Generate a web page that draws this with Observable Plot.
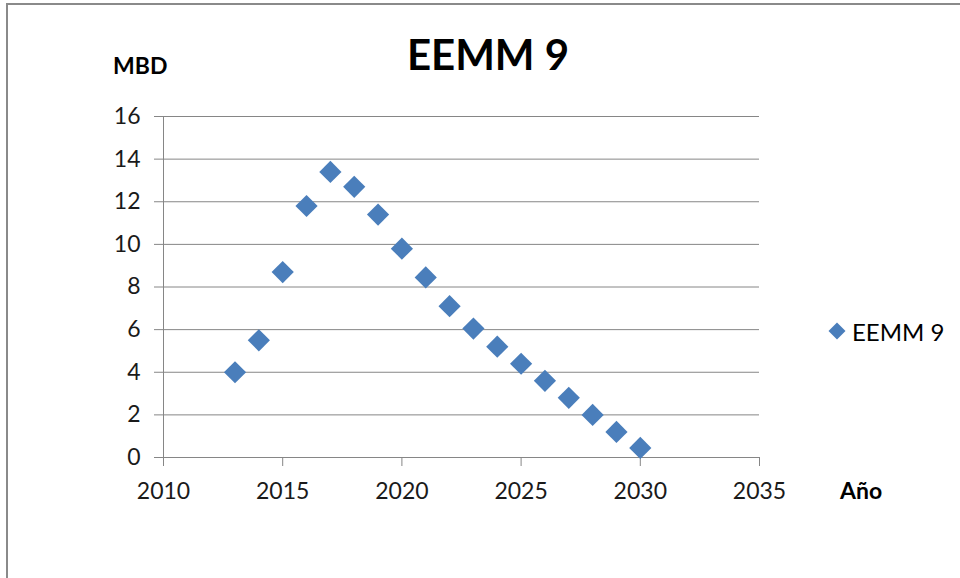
<!DOCTYPE html>
<html>
<head>
<meta charset="utf-8">
<script src="https://cdn.jsdelivr.net/npm/d3@7"></script>
<script src="https://cdn.jsdelivr.net/npm/@observablehq/plot@0.6"></script>
<style>
  html, body { margin: 0; padding: 0; background: #fff; }
  #wrap { position: relative; width: 960px; height: 578px; overflow: hidden; font-family: Lato, "Open Sans", sans-serif; }
  #frame { position: absolute; left: 6px; top: 3px; width: 1000px; height: 700px; border-left: 2px solid #8a8a8a; border-top: 2px solid #8a8a8a; box-sizing: border-box; }
  .lbl { position: absolute; line-height: 1; white-space: nowrap; color: #000; }
  #chart { position: absolute; left: 0; top: 0; }
</style>
</head>
<body>
<div id="wrap">
  <div id="frame"></div>
  <div id="chart"></div>
  <div class="lbl" id="title" style="font-weight:700;font-size:42px;top:33px;left:0;width:976px;text-align:center;">EEMM 9</div>
  <div class="lbl" id="ylab" style="font-weight:700;font-size:23px;top:54px;left:113px;">MBD</div>
  <div class="lbl" id="xlab" style="font-weight:700;font-size:23px;top:479px;left:840px;">Año</div>
  <div class="lbl" id="legend" style="font-size:24px;top:320px;left:827px;display:flex;align-items:center;">
    <svg width="20" height="20" style="margin-right:5px;margin-top:-2px"><path d="M10,1.5L18.5,10L10,18.5L1.5,10Z" fill="#4a7ebb"/></svg><span id="legtext"></span>
  </div>
</div>
<script>
const seriesName = "EEMM 9";
const years = [2013, 2014, 2015, 2016, 2017, 2018, 2019, 2020, 2021, 2022, 2023, 2024, 2025, 2026, 2027, 2028, 2029, 2030];
const values = [4.0, 5.5, 8.7, 11.8, 13.4, 12.7, 11.4, 9.8, 8.45, 7.1, 6.05, 5.2, 4.4, 3.6, 2.8, 2.0, 1.2, 0.45];
const xTicks = [2010, 2015, 2020, 2025, 2030, 2035];
const yTicks = [0, 2, 4, 6, 8, 10, 12, 14, 16];

document.getElementById("legtext").textContent = seriesName;

const data = years.map((y, i) => ({year: y, value: values[i]}));

const chart = Plot.plot({
  width: 960,
  height: 578,
  marginLeft: 163,
  marginRight: 201,
  marginTop: 116,
  marginBottom: 121,
  style: {fontFamily: "Lato, 'Open Sans', sans-serif", fontSize: "23px", color: "#000", background: "transparent", overflow: "visible"},
  x: {domain: [2010, 2035], ticks: xTicks, tickFormat: d => String(d)},
  y: {domain: [0, 16], ticks: yTicks},
  marks: [
    Plot.gridY(yTicks, {stroke: "#868686", strokeOpacity: 1, strokeWidth: 1}),
    Plot.axisY(yTicks, {tickSize: 9, tickPadding: 14, stroke: "#868686", strokeOpacity: 1, fill: "#1a1a1a", label: null}),
    Plot.axisX(xTicks, {tickSize: 9, tickPadding: 16, stroke: "#868686", strokeOpacity: 1, fill: "#1a1a1a", label: null, tickFormat: d => String(d)}),
    Plot.ruleX([2010], {stroke: "#868686", strokeWidth: 1}),
    Plot.ruleY([0], {stroke: "#868686", strokeWidth: 1}),
    Plot.dot(data, {x: "year", y: "value", symbol: "diamond2", r: 10, fill: "#4a7ebb", stroke: "none"})
  ]
});
document.getElementById("chart").appendChild(chart);
</script>
</body>
</html>
